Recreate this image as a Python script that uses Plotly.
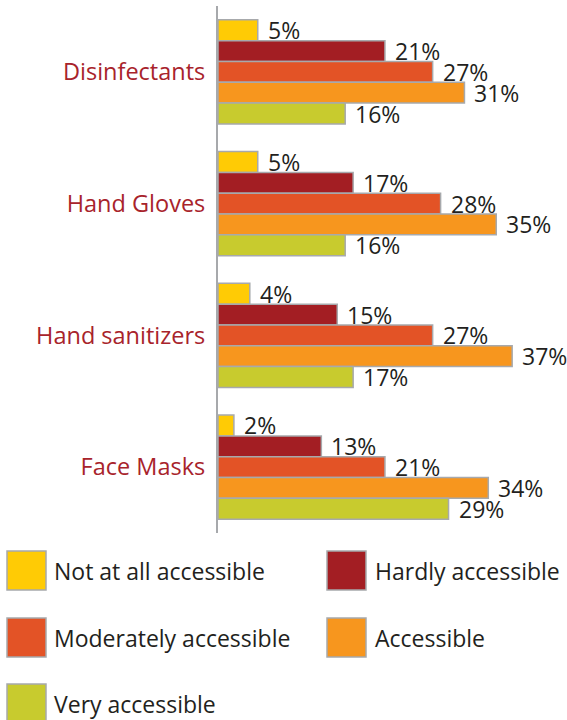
import plotly.graph_objects as go

# Data
categories = ["Disinfectants", "Hand Gloves", "Hand sanitizers", "Face Masks"]
series_names = [
    "Not at all accessible",
    "Hardly accessible",
    "Moderately accessible",
    "Accessible",
    "Very accessible",
]
not_at_all = [5, 5, 4, 2]
hardly = [21, 17, 15, 13]
moderately = [27, 28, 27, 21]
accessible = [31, 35, 37, 34]
very = [16, 16, 17, 29]
series_values = [not_at_all, hardly, moderately, accessible, very]

colors = ["#FFCB05", "#A31E23", "#E35326", "#F7961E", "#C8CB2E"]
outline = "#A7A9AC"
text_color = "#231F20"
cat_color = "#A8232B"
FONT = "Open Sans"

W, H = 567, 720
L, R, T, B = 218, 31, 6, 187
plot_w = W - L - R
plot_h = H - T - B
bargap = 0.21

fig = go.Figure()
for name, vals, col in zip(series_names, series_values, colors):
    fig.add_trace(go.Bar(
        y=categories, x=vals, name=name, orientation="h",
        marker=dict(color=col, line=dict(color=outline, width=1.5)),
        showlegend=False, hoverinfo="x+name",
    ))

# Value labels placed just right of each bar
band_px = plot_h / len(categories)
bar_px = band_px * (1 - bargap) / len(series_names)
annotations = []
for i, vals in enumerate(series_values):
    offset = (i - (len(series_names) - 1) / 2) * bar_px
    for cat, v in zip(categories, vals):
        annotations.append(dict(
            x=v, y=cat, xref="x", yref="y", text=f"{v}%",
            xanchor="left", yanchor="middle", showarrow=False,
            xshift=9, yshift=-offset, borderpad=0,
            font=dict(family=FONT, size=23, color=text_color),
        ))

# Legend drawn below the plot area
def px_x(px):
    return (px - L) / plot_w

def px_y(py):
    return (H - B - py) / plot_h

shapes = []
sq = 39
col_x = [7, 327]
text_x = [52, 373]
row_y = [551, 618, 684]
for i, (name, col) in enumerate(zip(series_names, colors)):
    r, c = divmod(i, 2)
    x0, y0 = col_x[c], row_y[r]
    shapes.append(dict(
        type="rect", xref="paper", yref="paper",
        x0=px_x(x0), x1=px_x(x0 + sq), y0=px_y(y0), y1=px_y(y0 + sq),
        fillcolor=col, line=dict(color=outline, width=1.5), layer="above",
    ))
    annotations.append(dict(
        x=px_x(text_x[c]), y=px_y(y0 + sq / 2), xref="paper", yref="paper",
        text=name, xanchor="left", yanchor="middle", showarrow=False,
        font=dict(family=FONT, size=23, color=text_color),
    ))

fig.update_layout(
    width=W, height=H,
    margin=dict(l=L, r=R, t=T, b=B),
    paper_bgcolor="white", plot_bgcolor="white",
    barmode="group", bargap=bargap, bargroupgap=0,
    font=dict(family=FONT, color=text_color),
    annotations=annotations, shapes=shapes,
)
fig.update_xaxes(
    range=[0, 40], visible=False, showgrid=False, zeroline=False,
)
fig.update_yaxes(
    autorange="reversed", showgrid=False, zeroline=False,
    showline=True, linecolor=outline, linewidth=2,
    ticks="", ticklabelstandoff=6,
    tickfont=dict(family=FONT, size=23.5, color=cat_color),
)

fig.write_html("out.html")
